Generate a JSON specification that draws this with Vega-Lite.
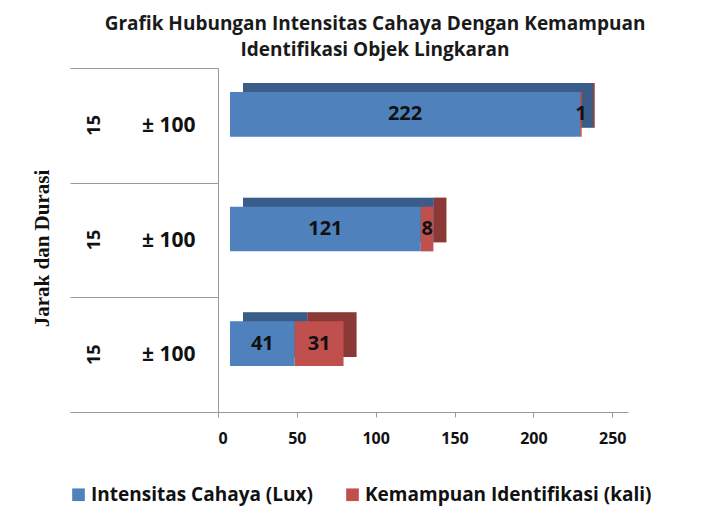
{
  "$schema": "https://vega.github.io/schema/vega-lite/v6.json",
  "width": 410,
  "height": 344,
  "autosize": {"type": "none"},
  "padding": {"left": 218, "top": 68, "right": 76, "bottom": 106},
  "background": "white",
  "title": {
    "text": ["Grafik Hubungan Intensitas Cahaya Dengan Kemampuan", "Identifikasi Objek Lingkaran"],
    "font": "Open Sans",
    "fontSize": 19,
    "fontWeight": "bold",
    "color": "#1a1a1a",
    "anchor": "middle",
    "dx": -48,
    "offset": -3,
    "lineHeight": 26
  },
  "data": {
    "values": [
      {"row": "A", "series": "Intensitas Cahaya (Lux)", "ord": 1, "value": 222},
      {"row": "A", "series": "Kemampuan Identifikasi (kali)", "ord": 2, "value": 1},
      {"row": "B", "series": "Intensitas Cahaya (Lux)", "ord": 1, "value": 121},
      {"row": "B", "series": "Kemampuan Identifikasi (kali)", "ord": 2, "value": 8},
      {"row": "C", "series": "Intensitas Cahaya (Lux)", "ord": 1, "value": 41},
      {"row": "C", "series": "Kemampuan Identifikasi (kali)", "ord": 2, "value": 31}
    ]
  },
  "layer": [
    {
      "mark": {"type": "bar", "xOffset": 25, "yOffset": -20, "height": {"band": 0.39}},
      "encoding": {
        "y": {"field": "row", "type": "nominal", "axis": null, "scale": {"paddingInner": 0, "paddingOuter": 0}},
        "x": {"field": "value", "type": "quantitative", "stack": "zero", "scale": {"domain": [0, 250]},
          "axis": {"title": null, "values": [0, 50, 100, 150, 200, 250], "grid": false,
            "labelFont": "Open Sans", "labelFontSize": 16, "labelFontWeight": "bold", "labelColor": "#111",
            "tickSize": 5, "tickColor": "#999", "domainColor": "#999", "labelPadding": 13}},
        "order": {"field": "ord"},
        "color": {"field": "series", "type": "nominal", "title": null,
          "scale": {"domain": ["Intensitas Cahaya (Lux)", "Kemampuan Identifikasi (kali)"], "range": ["#4F81BD", "#C0504D"]},
          "legend": {"orient": "none", "legendX": -149, "legendY": 417, "direction": "horizontal",
            "symbolType": "square", "symbolSize": 160, "symbolStrokeWidth": 0, "symbolOpacity": 1,
            "labelFont": "Open Sans", "labelFontSize": 19, "labelFontWeight": "bold", "labelColor": "#111",
            "columnPadding": 30, "labelLimit": 400, "labelOffset": 3}}
      }
    },
    {
      "mark": {"type": "bar", "xOffset": 25, "yOffset": -20, "height": {"band": 0.39}, "color": "black", "opacity": 0.28},
      "encoding": {
        "y": {"field": "row", "type": "nominal", "axis": null},
        "x": {"field": "value", "type": "quantitative", "stack": "zero"},
        "order": {"field": "ord"},
        "detail": {"field": "series"}
      }
    },
    {
      "mark": {"type": "bar", "xOffset": 12, "yOffset": -11, "height": {"band": 0.39}},
      "encoding": {
        "y": {"field": "row", "type": "nominal",
          "axis": {"orient": "left", "title": null,
            "labelExpr": "indexof(['A','B','C'], datum.value) >= 0 ? '± 100' : ''", "labelAngle": 0,
            "labelFont": "Open Sans", "labelFontSize": 21, "labelFontWeight": "bold", "labelColor": "#111",
            "tickBand": "extent", "tickSize": 148, "tickColor": "#999", "labelPadding": -125,
            "domainColor": "#999"}},
        "x": {"field": "value", "type": "quantitative", "stack": "zero"},
        "order": {"field": "ord"},
        "color": {"field": "series", "type": "nominal"}
      }
    },
    {
      "transform": [
        {"stack": "value", "groupby": ["row"], "sort": [{"field": "ord"}], "as": ["v0", "v1"]},
        {"calculate": "(datum.v0 + datum.v1) / 2", "as": "mid"}
      ],
      "mark": {"type": "text", "xOffset": 12, "yOffset": -11, "font": "Open Sans", "fontSize": 20, "fontWeight": "bold", "color": "#111"},
      "encoding": {
        "y": {"field": "row", "type": "nominal",
          "axis": {"orient": "left",
            "labelExpr": "indexof(['A','B','C'], datum.value) >= 0 ? '15' : ''",
            "labelAngle": -90, "labelAlign": "center", "labelBaseline": "bottom",
            "labelFont": "Open Sans", "labelFontSize": 18, "labelFontWeight": "bold", "labelColor": "#111",
            "ticks": false, "tickSize": 0, "domain": false, "labelPadding": 115,
            "title": "Jarak dan Durasi", "titleFont": "Liberation Serif", "titleFontSize": 21, "titleFontWeight": "bold",
            "titleColor": "#111", "titlePadding": 33, "titleY": 180}},
        "x": {"field": "mid", "type": "quantitative"},
        "text": {"field": "value", "type": "quantitative"}
      }
    }
  ],
  "resolve": {"axis": {"y": "independent"}},
  "config": {"view": {"stroke": null}}
}
